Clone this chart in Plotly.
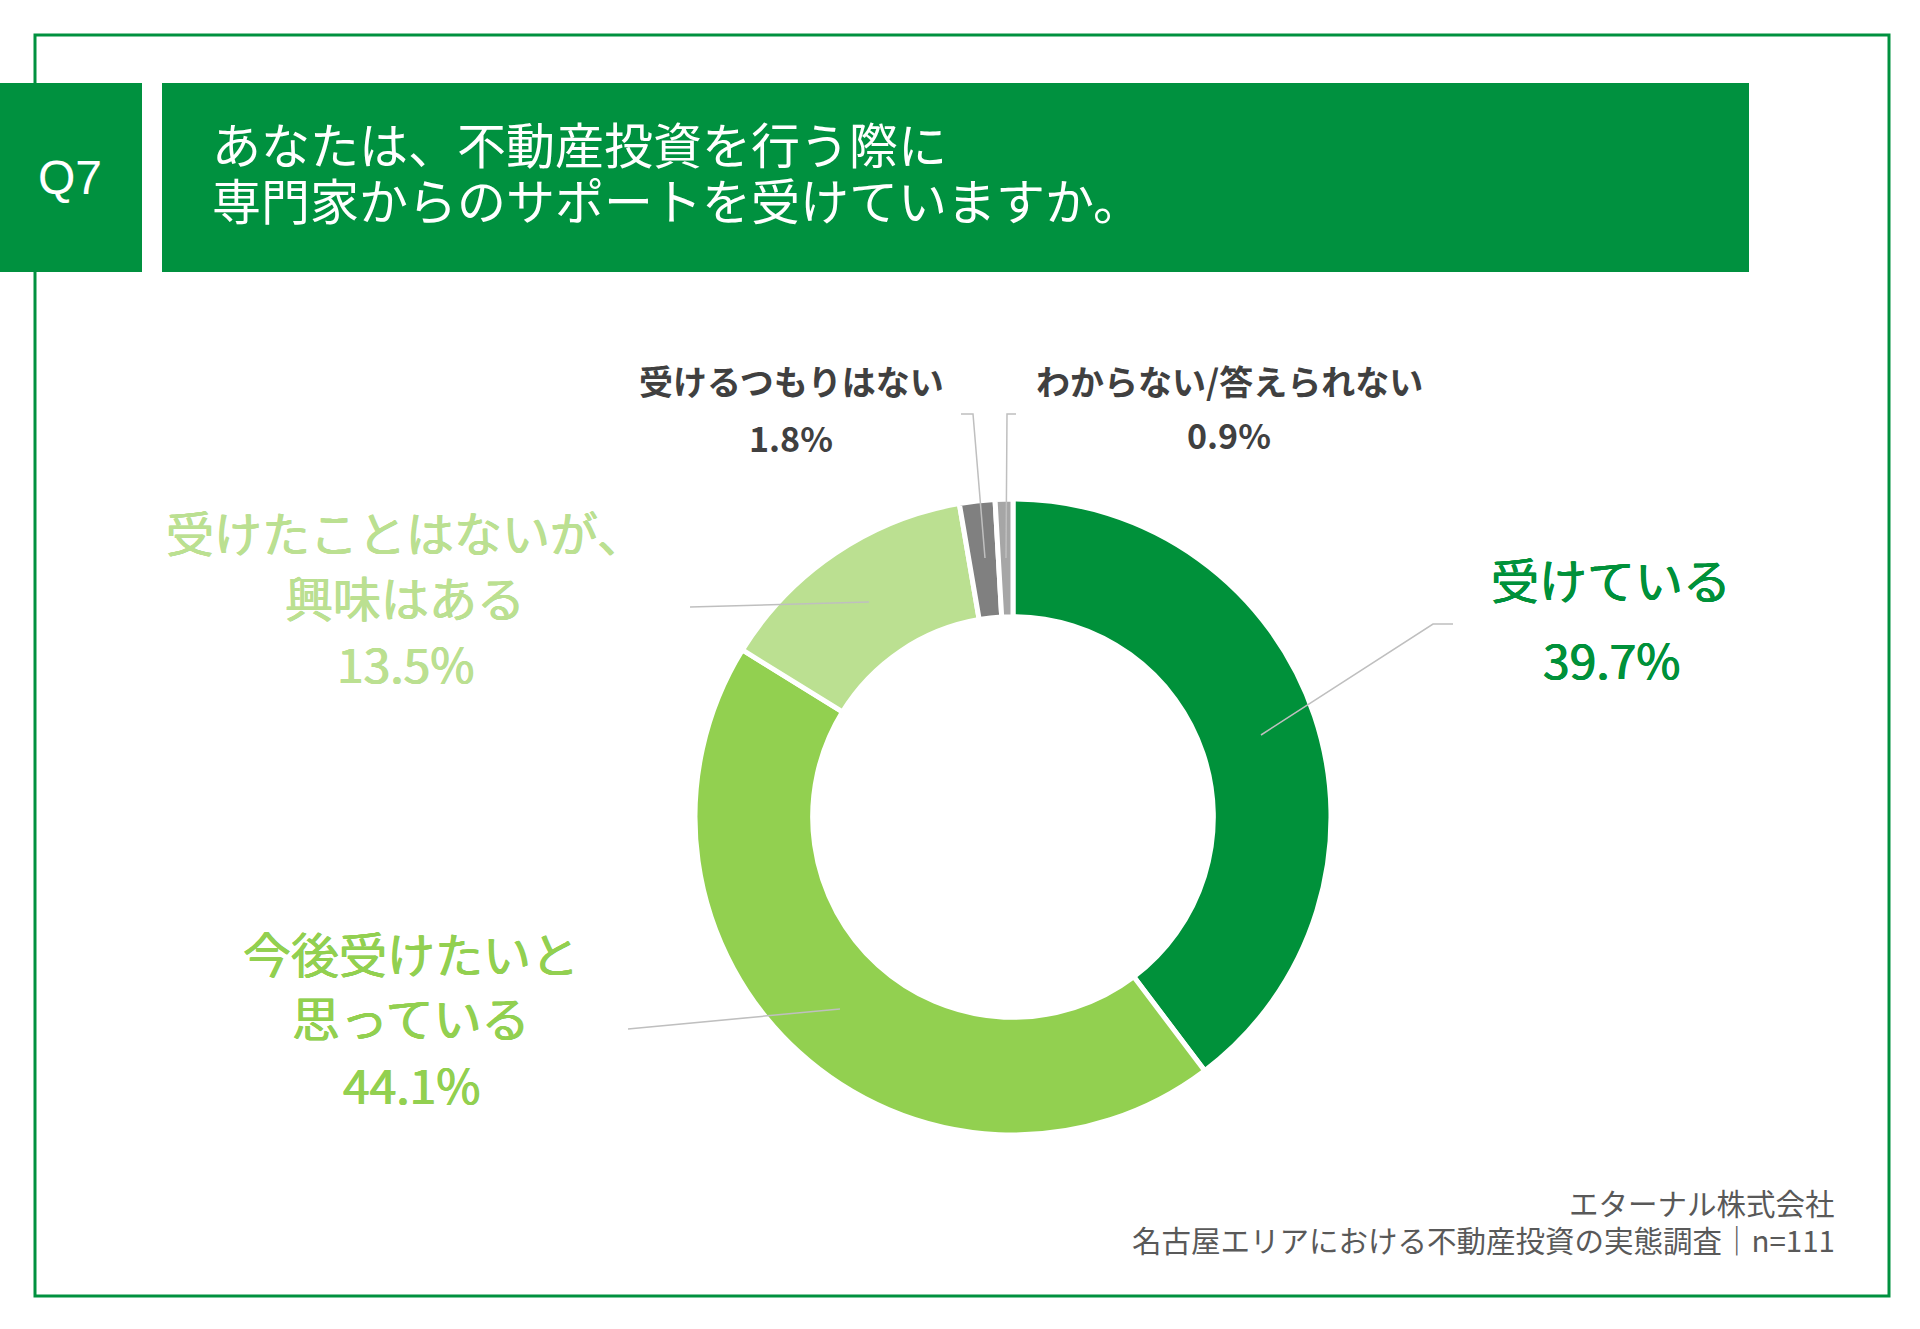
import plotly.graph_objects as go

# Données du graphique
categories = ["受けている", "今後受けたいと思っている", "受けたことはないが、興味はある",
              "受けるつもりはない", "わからない/答えられない"]
valeurs = [39.7, 44.1, 13.5, 1.8, 0.9]
couleurs = ["#00913A", "#92D050", "#BBE091", "#808080", "#A6A6A6"]

question = "Q7"
titre_lignes = ["あなたは、不動産投資を行う際に", "専門家からのサポートを受けていますか。"]
source_lignes = ["エターナル株式会社", "名古屋エリアにおける不動産投資の実態調査｜n=111"]

W, H = 1920, 1329
VERT = "#00913F"
FONT = "Noto Sans CJK JP"
DY = -4  # correction verticale du centrage des textes


def px(x):
    return x / W


def py(y):
    return 1 - y / H


# Donut
cx, cy, r = 1013, 817, 318
fig = go.Figure(go.Pie(
    labels=categories,
    values=valeurs,
    hole=0.63,
    sort=False,
    direction="clockwise",
    rotation=0,
    textinfo="none",
    hoverinfo="label+percent",
    marker=dict(colors=couleurs, line=dict(color="white", width=5)),
    domain=dict(x=[px(cx - r), px(cx + r)], y=[py(cy + r), py(cy - r)]),
    showlegend=False,
))

formes = []
# Cadre extérieur
formes.append(dict(type="rect", xref="paper", yref="paper",
                   x0=px(35), x1=px(1889), y0=py(1296), y1=py(35),
                   line=dict(color=VERT, width=3), fillcolor="rgba(0,0,0,0)", layer="below"))
# Bandeaux de titre
formes.append(dict(type="rect", xref="paper", yref="paper",
                   x0=px(0), x1=px(142), y0=py(272), y1=py(83),
                   line=dict(width=0), fillcolor=VERT, layer="below"))
formes.append(dict(type="rect", xref="paper", yref="paper",
                   x0=px(162), x1=px(1749), y0=py(272), y1=py(83),
                   line=dict(width=0), fillcolor=VERT, layer="below"))

# Lignes de rappel
rappels = [
    [(1261, 735), (1433, 624), (1453, 624)],
    [(869, 602), (690, 607)],
    [(840, 1009), (628, 1029)],
    [(985, 558), (973, 414), (961, 414)],
    [(1006, 558), (1007, 414), (1016, 414)],
]
for pts in rappels:
    chemin = "M " + " L ".join(f"{px(x)},{py(y)}" for x, y in pts)
    formes.append(dict(type="path", xref="paper", yref="paper", path=chemin,
                       line=dict(color="#BFBFBF", width=1.5)))

annotations = []


def texte(t, x, y, taille, couleur, xanchor="center", poids=400, police=FONT, epais=False):
    font = dict(family=police, size=taille, color=couleur, weight=poids)
    if epais:
        font["shadow"] = f"0.6px 0 0 {couleur}, -0.6px 0 0 {couleur}, 0 0.4px 0 {couleur}"
    annotations.append(dict(text=t, x=px(x), y=py(y + DY), xref="paper", yref="paper",
                            xanchor=xanchor, yanchor="middle", showarrow=False, font=font))


texte(question, 70, 181, 48, "white", police="Liberation Sans")
texte(titre_lignes[0], 210, 147, 49, "white", xanchor="left")
texte(titre_lignes[1], 210, 202, 49, "white", xanchor="left")

pct = [f"{v:.1f}%" for v in valeurs]

# 受けている
texte(categories[0], 1611, 582, 48, couleurs[0], epais=True)
texte(pct[0], 1611, 662, 48, couleurs[0], epais=True)
# 今後受けたいと思っている
texte("今後受けたいと", 411, 956, 48, couleurs[1], epais=True)
texte("思っている", 411, 1020, 48, couleurs[1], epais=True)
texte(pct[1], 411, 1087, 48, couleurs[1], epais=True)
# 受けたことはないが、興味はある
texte("受けたことはないが、", 405, 535, 48, couleurs[2], epais=True)
texte("興味はある", 405, 600, 48, couleurs[2], epais=True)
texte(pct[2], 405, 666, 48, couleurs[2], epais=True)
# petites catégories
texte(categories[3], 791, 385, 34, "#404040", poids=700)
texte(pct[3], 791, 441, 34, "#404040", poids=700)
texte(categories[4], 1229, 385, 34, "#404040", poids=700)
texte(pct[4], 1229, 438, 34, "#404040", poids=700)

# Source
texte(source_lignes[0], 1837, 1206, 29.5, "#595959", xanchor="right")
texte(source_lignes[1], 1837, 1243, 29.5, "#595959", xanchor="right")

fig.update_layout(
    width=W, height=H,
    margin=dict(l=0, r=0, t=0, b=0),
    paper_bgcolor="white",
    plot_bgcolor="white",
    shapes=formes,
    annotations=annotations,
)

fig.write_html("out.html", config={"displayModeBar": False},
               post_script="document.body.style.margin='0px';")
